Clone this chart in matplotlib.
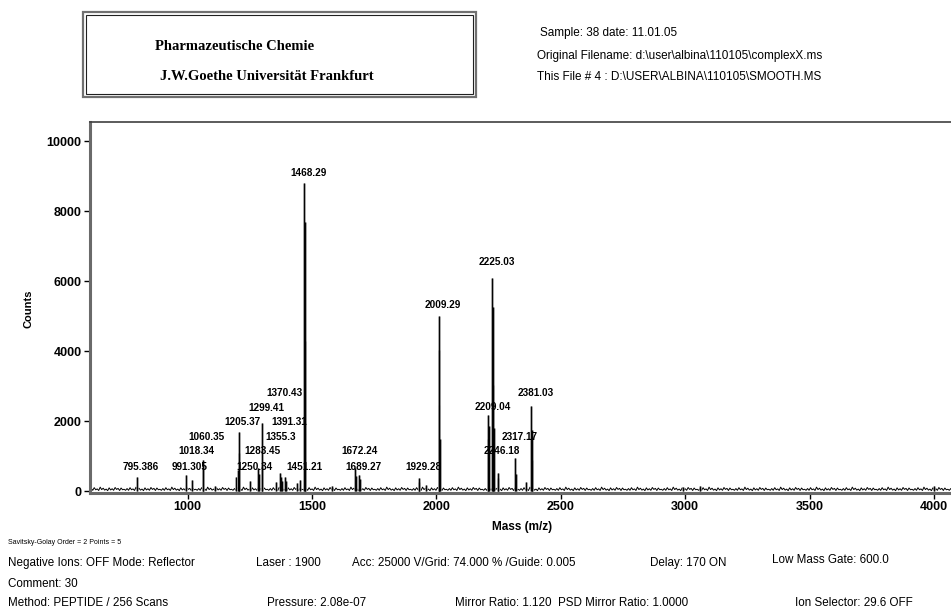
import matplotlib
matplotlib.use('Agg')
import matplotlib.pyplot as plt
from matplotlib.patches import Rectangle

# labelled peaks: m/z, peak height (counts), height where the label sits
peak_mz = [795.386, 991.305, 1018.34, 1060.35, 1205.37, 1250.34, 1283.45, 1299.41,
           1355.3, 1370.43, 1391.31, 1451.21, 1468.29, 1672.24, 1689.27, 1929.28,
           2009.29, 2209.04, 2225.03, 2246.18, 2317.17, 2381.03]
peak_counts = [400, 460, 310, 880, 1700, 300, 650, 1930,
               250, 510, 400, 320, 8800, 650, 460, 370,
               5000, 2170, 6100, 510, 940, 2440]
label_counts = [694, 694, 1143, 1534, 1963, 694, 1143, 2380,
                1534, 2809, 1963, 694, 9086, 1143, 694, 694,
                5314, 2391, 6551, 1143, 1551, 2809]
peak_labels = ['795.386', '991.305', '1018.34', '1060.35', '1205.37', '1250.34',
               '1283.45', '1299.41', '1355.3', '1370.43', '1391.31', '1451.21',
               '1468.29', '1672.24', '1689.27', '1929.28', '2009.29', '2209.04',
               '2225.03', '2246.18', '2317.17', '2381.03']

# unlabelled isotope lines and small signals
extra_mz = [1469.8, 1471.0, 2010.8, 2012.0, 2013.2, 2226.5, 2228.0, 2229.5,
            2205.5, 2212.0, 2383.0, 2384.5, 1201.0, 1207.5, 1195.0, 1297.0,
            1286.0, 1062.5, 1674.5, 1691.5, 1373.0, 1380.0, 1393.5, 2248.5,
            2319.5, 1931.5, 1957.0, 1580.0, 2990.0, 3060.0, 4000.0, 1110.0,
            1440.0, 2360.0]
extra_counts = [7700, 4300, 4030, 2460, 1500, 5260, 3030, 1800,
                1500, 1850, 1750, 900, 600, 1100, 400, 800,
                500, 800, 420, 350, 400, 300, 300, 380,
                500, 260, 180, 130, 110, 150, 140, 150,
                220, 250]

# baseline ripple (counts), repeated along the mass axis
ripple = [70, 20, 95, 35, 60, 15, 110, 40, 80, 25, 55, 10,
          90, 30, 65, 20, 100, 45, 75, 15, 85, 35, 50, 20]
mass_lo, mass_hi, ripple_step = 612, 4105, 6

base_x, base_y = [], []
m, i = mass_lo, 0
while m <= mass_hi:
    base_x.append(m)
    base_y.append(ripple[i % len(ripple)])
    m += ripple_step
    i += 1

fig = plt.figure(figsize=(9.51, 6.11), dpi=100)
W, H = 951, 611
ax = fig.add_axes([90 / W, 1 - 493 / H, 1 - 90 / W + 0.01, (493 - 122) / H])

ax.plot(base_x, base_y, color='black', lw=0.7)
spike_x = peak_mz + extra_mz
spike_y = peak_counts + extra_counts
ax.vlines(spike_x, 0, spike_y, color='#8a8a8a', lw=1.8)
ax.vlines(spike_x, 0, spike_y, color='black', lw=0.7)

for lab, mz, yl in zip(peak_labels, peak_mz, label_counts):
    ax.annotate(lab, (mz, yl), xytext=(3, 0), textcoords='offset points',
                ha='center', va='center', fontsize=7.2, fontweight='bold',
                family='Liberation Sans')

ax.set_xlim(607, 4107)
ax.set_ylim(-57, 10543)
ax.set_xticks([1000, 1500, 2000, 2500, 3000, 3500, 4000])
ax.set_yticks([0, 2000, 4000, 6000, 8000, 10000])
ax.tick_params(direction='out', length=4, width=1, labelsize=9, pad=2)
for t in ax.get_xticklabels() + ax.get_yticklabels():
    t.set_fontweight('bold')
    t.set_family('Liberation Sans')
ax.spines['right'].set_visible(False)
ax.spines['top'].set_color('#404040')
ax.spines['top'].set_linewidth(1.2)
for s in ('left', 'bottom'):
    ax.spines[s].set_color('#6a6a6a')
    ax.spines[s].set_linewidth(2.2)

fig.text(28 / W, 1 - 309 / H, 'Counts', rotation=90, ha='center', va='center',
         fontsize=8, fontweight='bold', family='Liberation Sans')
fig.text(522 / W, 1 - 527 / H, 'Mass (m/z)', ha='center', va='center',
         fontsize=8.5, fontweight='bold', family='Liberation Sans')

# ---- header box ----
fig.patches.append(Rectangle((83 / W, 1 - 97 / H), (476 - 83) / W, (97 - 12) / H,
                             transform=fig.transFigure, fill=False,
                             edgecolor='#707070', lw=1.6))
fig.patches.append(Rectangle((86 / W, 1 - 94 / H), (473 - 86) / W, (94 - 15) / H,
                             transform=fig.transFigure, fill=False,
                             edgecolor='#202020', lw=0.8))
fig.text(155 / W, 1 - 47 / H, 'Pharmazeutische Chemie', ha='left', va='center',
         fontsize=10.5, fontweight='bold', family='Liberation Serif')
fig.text(160 / W, 1 - 76 / H, 'J.W.Goethe Universität Frankfurt', ha='left', va='center',
         fontsize=10.5, fontweight='bold', family='Liberation Serif')

header = ['Sample: 38 date: 11.01.05',
          'Original Filename: d:\\user\\albina\\110105\\complexX.ms',
          'This File # 4 : D:\\USER\\ALBINA\\110105\\SMOOTH.MS']
for txt, (x, y) in zip(header, [(540, 33), (537, 56), (537, 77)]):
    fig.text(x / W, 1 - y / H, txt, ha='left', va='center', fontsize=8.5,
             family='Liberation Sans')

# ---- acquisition footer ----
footer = [
    ('Negative Ions: OFF Mode: Reflector', 8, 563),
    ('Laser : 1900', 256, 563),
    ('Acc: 25000 V/Grid: 74.000 % /Guide: 0.005', 352, 563),
    ('Delay: 170 ON', 650, 563),
    ('Low Mass Gate: 600.0', 772, 560),
    ('Comment: 30', 8, 584),
    ('Method: PEPTIDE / 256 Scans', 8, 603),
    ('Pressure: 2.08e-07', 267, 603),
    ('Mirror Ratio: 1.120  PSD Mirror Ratio: 1.0000', 455, 603),
    ('Ion Selector: 29.6 OFF', 795, 603),
]
for txt, x, y in footer:
    fig.text(x / W, 1 - y / H, txt, ha='left', va='center', fontsize=8.4,
             family='Liberation Sans')
fig.text(8 / W, 1 - 543 / H, 'Savitsky-Golay Order = 2 Points = 5', ha='left',
         va='center', fontsize=5.0, family='Liberation Sans')

fig.savefig('out.png', dpi=100)
